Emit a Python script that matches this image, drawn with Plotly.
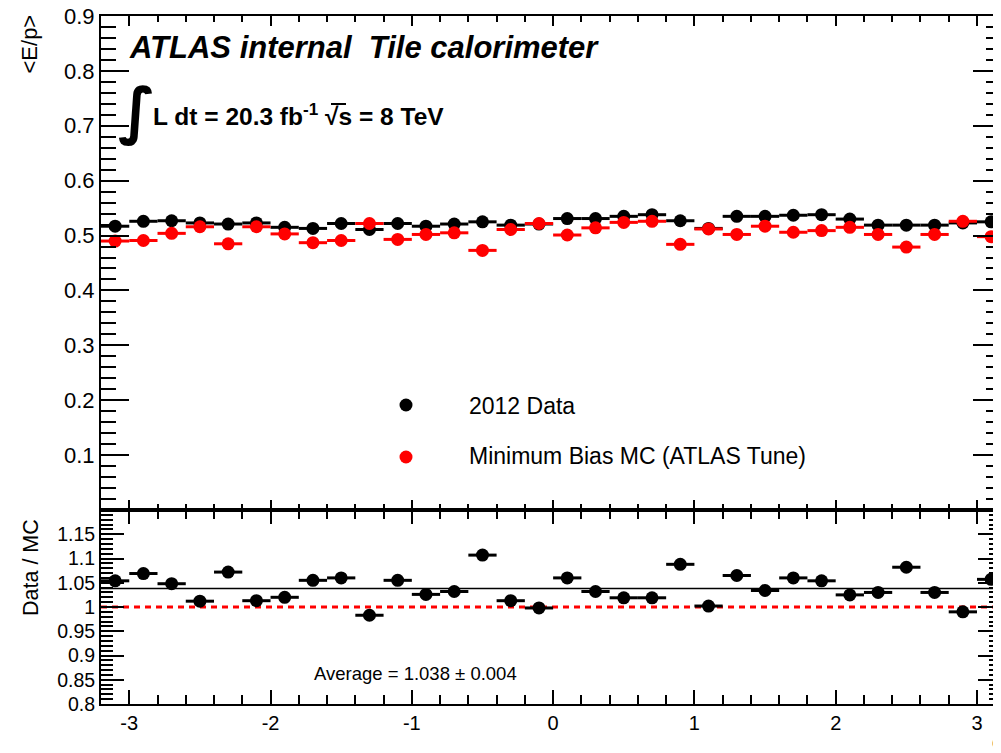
import plotly.graph_objects as go

# ---------------- data ----------------
phi = [-3.1, -2.9, -2.7, -2.5, -2.3, -2.1, -1.9, -1.7, -1.5, -1.3, -1.1, -0.9, -0.7, -0.5, -0.3, -0.1,
       0.1, 0.3, 0.5, 0.7, 0.9, 1.1, 1.3, 1.5, 1.7, 1.9, 2.1, 2.3, 2.5, 2.7, 2.9, 3.1]
half_bin = [0.1] * 32

data_ep = [0.517, 0.526, 0.527, 0.523, 0.521, 0.523, 0.515, 0.513, 0.522, 0.511, 0.522, 0.517, 0.521, 0.525, 0.519, 0.521,
           0.531, 0.531, 0.535, 0.538, 0.527, 0.513, 0.535, 0.535, 0.537, 0.538, 0.530, 0.519, 0.519, 0.519, 0.523, 0.525]
mc_ep = [0.490, 0.491, 0.504, 0.516, 0.485, 0.516, 0.503, 0.487, 0.491, 0.522, 0.493, 0.502, 0.505, 0.473, 0.511, 0.522,
         0.501, 0.514, 0.524, 0.526, 0.484, 0.512, 0.502, 0.517, 0.506, 0.509, 0.515, 0.502, 0.479, 0.502, 0.526, 0.498]
ratio = [1.054, 1.069, 1.048, 1.012, 1.072, 1.013, 1.020, 1.055, 1.060, 0.983, 1.055, 1.026, 1.032, 1.107, 1.013, 0.998,
         1.060, 1.032, 1.019, 1.019, 1.088, 1.002, 1.065, 1.034, 1.060, 1.054, 1.025, 1.030, 1.082, 1.030, 0.990, 1.057]
average = 1.038
average_err = 0.004

top_ticks = [0.1, 0.2, 0.3, 0.4, 0.5, 0.6, 0.7, 0.8, 0.9]
bot_ticks = [0.8, 0.85, 0.9, 0.95, 1.0, 1.05, 1.1, 1.15]
x_ticks = [-3, -2, -1, 0, 1, 2, 3]
x_tick_text = ["-3", "-2", "-1", "0", "1", "2", "3"]

FONT = "Liberation Sans, Arial, Helvetica, sans-serif"

# ---------------- geometry helpers ----------------
# The page body has an 8px margin, so the figure's origin sits at (8, 8) in the window.
OFF = 8
PLOT_L, PLOT_R, PLOT_T, PLOT_B = 101, 1001, 16, 704   # plot area in window pixels
W, H = 1001 - OFF, 753 - OFF
ML, MR, MT, MB = PLOT_L - OFF, 0, PLOT_T - OFF, 753 - PLOT_B


def px(x):
    return (x - PLOT_L) / (PLOT_R - PLOT_L)


def py(y):
    return (PLOT_B - y) / (PLOT_B - PLOT_T)


split = py(510)

fig = go.Figure()

# top panel
fig.add_trace(go.Scatter(
    x=phi, y=data_ep, mode="markers", name="2012 Data",
    marker=dict(color="black", size=13),
    error_x=dict(type="data", array=half_bin, color="black", thickness=3, width=0),
    xaxis="x", yaxis="y", showlegend=False))
fig.add_trace(go.Scatter(
    x=phi, y=mc_ep, mode="markers", name="Minimum Bias MC (ATLAS Tune)",
    marker=dict(color="#ff0000", size=13),
    error_x=dict(type="data", array=half_bin, color="#ff0000", thickness=3, width=0),
    xaxis="x", yaxis="y", showlegend=False))

# ratio panel
fig.add_trace(go.Scatter(
    x=phi, y=ratio, mode="markers", name="Data / MC",
    marker=dict(color="black", size=13),
    error_x=dict(type="data", array=half_bin, color="black", thickness=3, width=0),
    xaxis="x2", yaxis="y2", showlegend=False))

shapes = [
    dict(type="line", xref="x2 domain", yref="y2", x0=0, x1=1, y0=average, y1=average,
         line=dict(color="black", width=1.5), layer="below"),
    dict(type="line", xref="x2 domain", yref="y2", x0=0, x1=1, y0=1.0, y1=1.0,
         line=dict(color="#ff0000", width=3, dash="6px,5px"), layer="below"),
    # overline of the square root
    dict(type="line", xref="paper", yref="paper", x0=px(331), x1=px(346), y0=py(104), y1=py(104),
         line=dict(color="black", width=2)),
]

# manual legend markers
for cy, col in [(405, "black"), (457, "#ff0000")]:
    r = 6.5
    shapes.append(dict(type="circle", xref="paper", yref="paper",
                       x0=px(406 - r), x1=px(406 + r), y0=py(cy + r), y1=py(cy - r),
                       fillcolor=col, line=dict(color=col, width=0)))

annotations = [
    dict(text="<b><i>ATLAS internal  Tile calorimeter</i></b>", x=px(127), y=py(48),
         xanchor="left", yanchor="middle", font=dict(size=31, color="black", family=FONT)),
    dict(text="<b>∫</b>", x=px(137), y=py(110), xanchor="center", yanchor="middle",
         font=dict(size=62, color="black", family="DejaVu Sans"), showarrow=False),
    dict(text="<b>L dt = 20.3 fb<sup>-1</sup> √s = 8 TeV</b>", x=px(151), y=py(114),
         xanchor="left", yanchor="middle", font=dict(size=24.5, color="black", family=FONT)),
    dict(text="2012 Data", x=px(467), y=py(406), xanchor="left", yanchor="middle",
         font=dict(size=23, color="black", family=FONT)),
    dict(text="Minimum Bias MC (ATLAS Tune)", x=px(467), y=py(456), xanchor="left", yanchor="middle",
         font=dict(size=23, color="black", family=FONT)),
    dict(text=f"Average = {average:.3f} ± {average_err:.3f}", x=px(312), y=py(673),
         xanchor="left", yanchor="middle", font=dict(size=18.5, color="black", family=FONT)),
    dict(text="&lt;E/p&gt;", x=px(29), y=py(13), xanchor="center", yanchor="top", textangle=-90,
         font=dict(size=22, color="black", family=FONT)),
    dict(text="Data / MC", x=px(31), y=py(568), xanchor="center", yanchor="middle", textangle=-90,
         font=dict(size=21.5, color="black", family=FONT)),
    dict(text="ϕ", x=px(990), y=py(742), xanchor="left", yanchor="middle",
         font=dict(size=20, color="black", family=FONT)),
]
for a in annotations:
    a.setdefault("showarrow", False)
    a.setdefault("xref", "paper")
    a.setdefault("yref", "paper")

axis_common = dict(showline=True, linecolor="black", linewidth=2, mirror="ticks",
                   ticks="inside", tickcolor="black", tickwidth=1.5, showgrid=False,
                   zeroline=False, automargin=False, ticklabeloverflow="allow")

fig.update_layout(
    width=W, height=H,
    margin=dict(l=ML, r=MR, t=MT, b=MB, autoexpand=False),
    paper_bgcolor="white", plot_bgcolor="white",
    font=dict(family=FONT, color="black"),
    shapes=shapes, annotations=annotations,
    xaxis=dict(domain=[0, 1], anchor="y", range=[-3.2, 3.17], matches="x2",
               tickvals=x_ticks, showticklabels=False, ticklen=10,
               minor=dict(dtick=0.2, tick0=0, ticklen=6, ticks="inside", tickcolor="black", tickwidth=1.5),
               **axis_common),
    yaxis=dict(domain=[split, 1], anchor="x", range=[0, 0.9],
               tickvals=top_ticks, ticklen=28,
               tickfont=dict(family=FONT, size=22, color="black"),
               minor=dict(dtick=0.02, tick0=0, ticklen=15, ticks="inside", tickcolor="black", tickwidth=1.5),
               **axis_common),
    xaxis2=dict(domain=[0, 1], anchor="y2", range=[-3.2, 3.17],
                tickvals=x_ticks, ticktext=x_tick_text, ticklen=14,
                tickfont=dict(family=FONT, size=20, color="black"),
                minor=dict(dtick=0.2, tick0=0, ticklen=9, ticks="inside", tickcolor="black", tickwidth=1.5),
                **axis_common),
    yaxis2=dict(domain=[0, split], anchor="x2", range=[0.8, 1.2],
                tickvals=bot_ticks, ticklen=23,
                tickfont=dict(family=FONT, size=19.5, color="black"),
                minor=dict(dtick=0.01, tick0=0, ticklen=12, ticks="inside", tickcolor="black", tickwidth=1.5),
                **axis_common),
)

fig.write_html("out.html")
